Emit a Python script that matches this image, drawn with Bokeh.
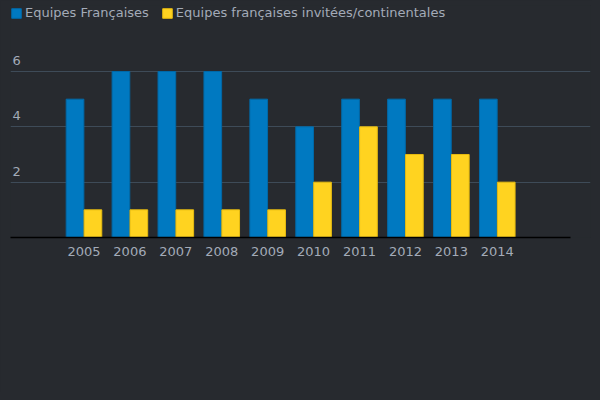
from bokeh.plotting import figure
from bokeh.models import ColumnDataSource, Legend, LegendItem, FixedTicker, Range1d
from bokeh.core.properties import value
from bokeh.embed import file_html
from bokeh.resources import INLINE

years = [2005, 2006, 2007, 2008, 2009, 2010, 2011, 2012, 2013, 2014]
equipes_francaises = [5, 6, 6, 6, 5, 4, 5, 5, 5, 5]
equipes_invitees = [1, 1, 1, 1, 1, 2, 4, 3, 3, 2]
series_names = ["Equipes Françaises", "Equipes françaises invitées/continentales"]
y_ticks = [2, 4, 6]

BG = "#272a2f"
BLUE = "#0079c1"
YELLOW = "#ffd320"
TXT = "#a3abb8"
FONT = "DejaVu Sans"

src = ColumnDataSource(dict(
    x1=[y - 0.195 for y in years],
    x2=[y + 0.195 for y in years],
    a=equipes_francaises,
    b=equipes_invitees,
))

p = figure(width=592, height=392, output_backend="svg", toolbar_location=None,
           x_range=Range1d(2003.40, 2016.03), y_range=Range1d(0, 8.385),
           background_fill_color=BG, border_fill_color=BG,
           min_border_left=10, min_border_right=2, min_border_top=5,
           min_border_bottom=155)
p.outline_line_color = None

r1 = p.vbar(x="x1", top="a", width=0.385, source=src, fill_color=BLUE, line_color="#0069a8", line_width=1)
r2 = p.vbar(x="x2", top="b", width=0.385, source=src, fill_color=YELLOW, line_color="#e6bb10", line_width=1)

# grid
p.xgrid.visible = False
p.ygrid.ticker = FixedTicker(ticks=[0] + y_ticks)
p.ygrid.grid_line_color = "#3e4b58"
p.ygrid.grid_line_width = 1

p.yaxis.visible = False

xa = p.xaxis[0]
xa.ticker = FixedTicker(ticks=years)
xa.bounds = (2003.40, 2015.6)
xa.axis_line_color = "black"
xa.axis_line_width = 1.5
xa.major_tick_line_color = None
xa.minor_tick_line_color = None
xa.major_label_text_color = TXT
xa.major_label_text_font = FONT
xa.major_label_text_font_size = "13px"
xa.major_label_standoff = 3

# y tick labels inside plot, above gridlines
p.text(x=[2003.40] * len(y_ticks), y=y_ticks, text=[str(t) for t in y_ticks],
       text_font=value(FONT), text_font_size="13px", text_color=TXT,
       text_baseline="alphabetic", text_align="left", x_offset=2, y_offset=-11)

legend = Legend(items=[LegendItem(label=series_names[0], renderers=[r1]),
                       LegendItem(label=series_names[1], renderers=[r2])],
                orientation="horizontal", location="top_left",
                background_fill_alpha=0, border_line_color=None,
                label_text_color=TXT, label_text_font=FONT, label_text_font_size="13px",
                glyph_width=12, glyph_height=12, label_standoff=3, spacing=12,
                padding=0, margin=0, label_height=12)
p.add_layout(legend, "center")

html = file_html(p, INLINE)
html = html.replace("<body>", '<body style="background:%s">' % BG)
open("out.html", "w").write(html)
